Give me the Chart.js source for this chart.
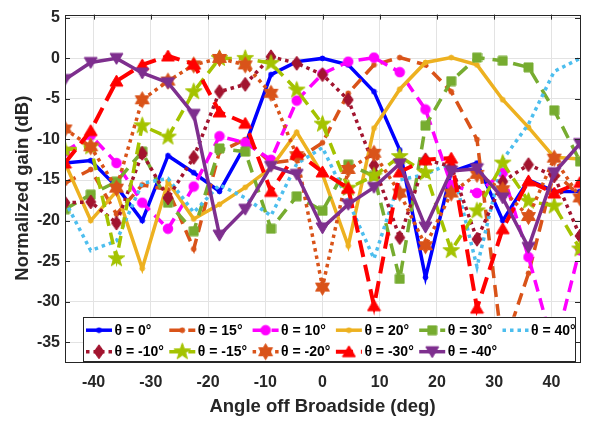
<!DOCTYPE html>
<html>
<head>
<meta charset="utf-8">
<script src="https://cdn.jsdelivr.net/npm/chart.js@4.4.0/dist/chart.umd.min.js"></script>
<style>
  html, body { margin: 0; padding: 0; background: #fff; }
</style>
</head>
<body>
<canvas id="chart" width="589" height="422"></canvas>
<script>
// angle off broadside (deg)
const angles = [-45, -40.5, -36, -31.5, -27, -22.5, -18, -13.5, -9, -4.5, 0, 4.5, 9, 13.5, 18, 22.5, 27, 31.5, 36, 40.5, 45];

// normalized gain (dB) per steering angle
const gainP0  = [-12.9, -12.6, -15.8, -20.0, -12.0, -14.1, -16.4, -10.7, -2.0, -0.4, 0, -0.8, -4.1, -11.3, -27.0, -14.0, -12.9, -20.0, -15.0, -16.4, -16.4];
const gainP15 = [-15.4, -13.7, -19.2, -15.6, -16.2, -23.5, -11.5, -10.0, -12.9, -12.5, -10.4, -4.3, -0.8, 0.1, -0.8, -4.1, -10.0, -36.0, -26.5, -14.0, -17.0];
const gainP10 = [-11.5, -9.5, -12.9, -17.8, -21.0, -15.8, -9.6, -10.4, -12.5, -5.2, -1.9, -0.4, 0.1, -1.7, -6.3, -15.6, -16.6, -14.1, -24.5, -36.0, -23.4];
const gainP20 = [-12.9, -20.0, -16.4, -25.9, -15.2, -19.8, -18.0, -15.9, -13.5, -9.1, -14.3, -23.1, -8.6, -3.8, -0.5, 0.1, -0.8, -5.1, -8.5, -12.2, -12.4];
const gainP30 = [-18.6, -16.8, -15.2, -11.5, -17.8, -21.3, -11.1, -11.5, -21.0, -17.0, -18.8, -13.1, -14.5, -27.2, -8.3, -2.8, 0.1, -0.3, -1.1, -6.4, -12.7];
const gainP40 = [-17.6, -23.7, -22.5, -15.4, -14.8, -19.0, -15.6, -17.2, -19.4, -13.0, -11.0, -17.6, -24.7, -15.0, -14.3, -12.9, -25.7, -12.5, -8.1, -1.6, 0];
const gainM10 = [-17.8, -17.7, -20.3, -11.7, -17.2, -12.2, -4.1, -3.2, 0.2, -0.6, -2.0, -5.1, -13.2, -22.1, -12.5, -13.3, -22.3, -15.2, -13.1, -14.5, -21.9];
const gainM15 = [-11.3, -10.9, -24.7, -8.3, -9.7, -4.1, 0, 0, -0.6, -3.9, -8.1, -16.0, -14.5, -12.1, -14.1, -23.7, -18.8, -12.9, -17.6, -18.2, -23.5];
const gainM20 = [-8.7, -10.9, -16.0, -5.1, -2.8, -0.8, 0, -0.8, -4.3, -12.0, -28.2, -13.7, -11.7, -16.6, -23.1, -16.6, -14.3, -16.2, -19.5, -12.3, -17.2];
const gainM30 = [-12.9, -8.9, -2.8, -0.8, 0.3, -0.7, -6.6, -8.0, -16.4, -11.6, -14.0, -16.0, -30.5, -14.0, -12.5, -12.3, -30.8, -21.0, -15.1, -16.6, -15.3];
const gainM40 = [-2.6, -0.5, 0, -1.8, -3.0, -6.9, -21.8, -18.6, -13.3, -14.3, -20.9, -18.0, -15.9, -13.0, -20.8, -13.9, -13.6, -17.2, -23.3, -14.1, -10.5];

const xTicks = [-40, -30, -20, -10, 0, 10, 20, 30, 40];
const yTicks = [5, 0, -5, -10, -15, -20, -25, -30, -35];

const FONT = "'Liberation Sans', Arial, Helvetica, sans-serif";

// marker images (MATLAB-like filled markers)
function marker(w, h, color, path) {
  const c = document.createElement('canvas');
  c.width = w; c.height = h;
  const g = c.getContext('2d');
  g.fillStyle = color; g.strokeStyle = color; g.lineWidth = 1;
  g.beginPath();
  path(g, w / 2, h / 2);
  g.closePath();
  g.fill(); g.stroke();
  return c;
}
const dot = (col) => marker(7, 7, col, (g, x, y) => g.arc(x, y, 2.4, 0, Math.PI * 2));
const circle = (col) => marker(12, 12, col, (g, x, y) => g.arc(x, y, 4.8, 0, Math.PI * 2));
const square = (col) => marker(11, 11, col, (g, x, y) => g.rect(x - 4.5, y - 4.5, 9, 9));
const diamond = (col) => marker(12, 16, col, (g, x, y) => {
  g.moveTo(x, y - 7); g.lineTo(x + 5, y); g.lineTo(x, y + 7); g.lineTo(x - 5, y);
});
const triUp = (col) => marker(15, 14, col, (g, x, y) => {
  g.moveTo(x, y - 6); g.lineTo(x + 6.5, y + 5); g.lineTo(x - 6.5, y + 5);
});
const triDown = (col) => marker(15, 14, col, (g, x, y) => {
  g.moveTo(x, y + 6); g.lineTo(x + 6.5, y - 5); g.lineTo(x - 6.5, y - 5);
});
function starPath(n, ro, ri) {
  return (g, x, y) => {
    for (let k = 0; k < 2 * n; k++) {
      const r = k % 2 ? ri : ro;
      const a = -Math.PI / 2 + k * Math.PI / n;
      const px = x + r * Math.cos(a), py = y + r * Math.sin(a);
      k ? g.lineTo(px, py) : g.moveTo(px, py);
    }
  };
}
const pentagram = (col) => marker(21, 21, col, starPath(5, 8.7, 3.5));
const hexagram = (col) => marker(19, 19, col, starPath(6, 8.0, 4.6));

const DASH = [12, 7], DOT = [3.5, 4];
const series = [
  { label: 'θ = 0°',   data: gainP0,  color: '#0000FF', dash: [],      mk: dot },
  { label: 'θ = 15°',  data: gainP15, color: '#D95319', dash: DASH,    mk: dot },
  { label: 'θ = 10°',  data: gainP10, color: '#FF00FF', dash: DASH,    mk: circle },
  { label: 'θ = 20°',  data: gainP20, color: '#EDB120', dash: [],      mk: dot },
  { label: 'θ = 30°',  data: gainP30, color: '#77AC30', dash: [13, 8], mk: square },
  { label: 'θ = 40°',  data: gainP40, color: '#4DBEEE', dash: DOT,     mk: null },
  { label: 'θ = -10°', data: gainM10, color: '#A2142F', dash: DOT,     mk: diamond },
  { label: 'θ = -15°', data: gainM15, color: '#A4C300', dash: DASH,    mk: pentagram },
  { label: 'θ = -20°', data: gainM20, color: '#D95319', dash: DOT,     mk: hexagram },
  { label: 'θ = -30°', data: gainM30, color: '#FF0000', dash: [17, 8], mk: triUp },
  { label: 'θ = -40°', data: gainM40, color: '#7E2F8E', dash: [],      mk: triDown }
];
series.forEach(s => { s.img = s.mk ? s.mk(s.color) : null; });
const lineW = (s) => s.label === 'θ = -30°' ? 4 : 3.5;

// box with inward ticks on all sides
const axesBox = {
  id: 'axesBox',
  afterDatasetsDraw(chart) {
    const { ctx, chartArea: a, scales: { x, y } } = chart;
    ctx.save();
    ctx.strokeStyle = '#262626';
    ctx.lineWidth = 1;
    ctx.beginPath();
    xTicks.forEach(v => {
      const px = Math.round(x.getPixelForValue(v)) + 0.5;
      ctx.moveTo(px, a.bottom); ctx.lineTo(px, a.bottom - 5);
      ctx.moveTo(px, a.top); ctx.lineTo(px, a.top + 5);
    });
    yTicks.forEach(v => {
      const py = Math.round(y.getPixelForValue(v)) + 0.5;
      ctx.moveTo(a.left, py); ctx.lineTo(a.left + 5, py);
      ctx.moveTo(a.right, py); ctx.lineTo(a.right - 5, py);
    });
    ctx.stroke();
    ctx.strokeRect(Math.round(a.left) + 0.5, Math.round(a.top) + 0.5,
      Math.round(a.right - a.left), Math.round(a.bottom - a.top));
    ctx.restore();
  }
};

// boxed legend inside the lower part of the axes
const boxLegend = {
  id: 'boxLegend',
  afterDraw(chart) {
    const { ctx, chartArea: a } = chart;
    const L = a.left + 18, R = a.right - 5, B = a.bottom, T = B - 45;
    ctx.save();
    ctx.fillStyle = '#fff';
    ctx.fillRect(L, T, R - L, B - T);
    ctx.strokeStyle = '#262626';
    ctx.lineWidth = 1;
    ctx.strokeRect(Math.round(L) + 0.5, Math.round(T) + 0.5, Math.round(R - L), Math.round(B - T) - 1);
    ctx.font = 'bold 14px ' + FONT;
    ctx.textBaseline = 'middle';
    series.forEach((s, i) => {
      const col = i % 6, row = Math.floor(i / 6);
      const x0 = L + 3 + col * 83.3;
      const yy = T + 13.5 + row * 21.5;
      ctx.setLineDash(s.dash);
      ctx.strokeStyle = s.color;
      ctx.lineWidth = lineW(s);
      ctx.beginPath(); ctx.moveTo(x0, yy); ctx.lineTo(x0 + 26, yy); ctx.stroke();
      ctx.setLineDash([]);
      if (s.img) ctx.drawImage(s.img, x0 + 13 - s.img.width / 2, yy - s.img.height / 2);
      ctx.fillStyle = '#000';
      ctx.fillText(s.label, x0 + 28.5, yy + 0.5);
    });
    ctx.restore();
  }
};

const datasets = series.map((s, i) => ({
  label: s.label,
  data: angles.map((a, k) => ({ x: a, y: s.data[k] })),
  borderColor: s.color,
  backgroundColor: s.color,
  borderWidth: lineW(s),
  borderDash: s.dash,
  borderCapStyle: 'butt',
  borderJoinStyle: 'miter',
  tension: 0,
  pointStyle: s.img || 'circle',
  pointRadius: s.img ? 5 : 0,
  pointHoverRadius: s.img ? 5 : 0,
  order: series.length - i,
  clip: 0
}));

new Chart(document.getElementById('chart'), {
  type: 'line',
  data: { datasets },
  options: {
    responsive: false,
    animation: false,
    events: [],
    layout: { padding: { left: 0, right: 5.7, top: 10, bottom: 0 } },
    plugins: { legend: { display: false }, tooltip: { enabled: false } },
    scales: {
      x: {
        type: 'linear', min: -45, max: 45,
        afterBuildTicks: (sc) => { sc.ticks = xTicks.map(v => ({ value: v })); },
        afterFit: (sc) => { sc.height = 60.3; },
        grid: { color: '#e3e3e3', lineWidth: 1, drawTicks: false },
        border: { display: false },
        ticks: { color: '#262626', font: { family: FONT, size: 16, weight: 'bold' }, padding: 11, maxRotation: 0 },
        title: { display: true, text: 'Angle off Broadside (deg)', color: '#262626',
          font: { family: FONT, size: 18.5, weight: 'bold' }, padding: { top: 0, bottom: 4 } }
      },
      y: {
        type: 'linear', min: -37.4, max: 5.4,
        afterBuildTicks: (sc) => { sc.ticks = yTicks.map(v => ({ value: v })); },
        afterFit: (sc) => { sc.width = 65; },
        grid: { color: '#e3e3e3', lineWidth: 1, drawTicks: false },
        border: { display: false },
        ticks: { color: '#262626', font: { family: FONT, size: 16, weight: 'bold' }, padding: 5 },
        title: { display: true, text: 'Normalized gain (dB)', color: '#262626',
          font: { family: FONT, size: 18.5, weight: 'bold' }, padding: { top: 12, bottom: 0 } }
      }
    }
  },
  plugins: [axesBox, boxLegend]
});
</script>
</body>
</html>
